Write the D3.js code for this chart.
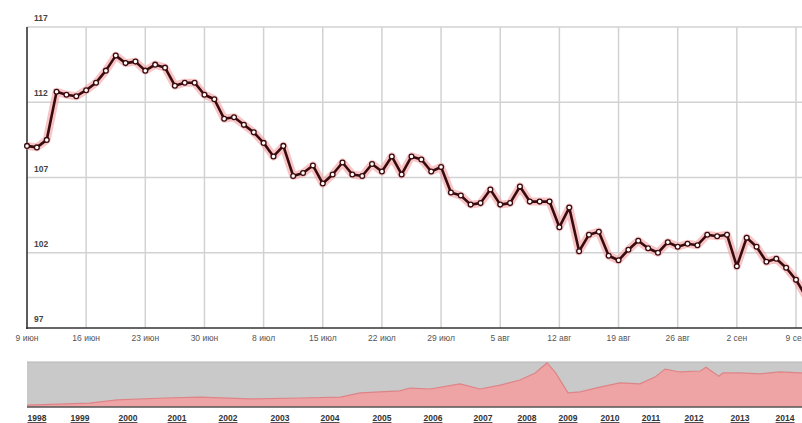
<!DOCTYPE html>
<html><head><meta charset="utf-8">
<script src="https://cdn.jsdelivr.net/npm/d3@7/dist/d3.min.js"></script>
<style>
html,body{margin:0;padding:0;background:#fff;overflow:hidden;}
svg{display:block;font-family:"Liberation Sans",Arial,sans-serif;}
</style></head><body>
<svg id="c" width="802" height="423"></svg>
<script>
// ---- data ----
const dateLabels = ["9 июн","16 июн","23 июн","30 июн","8 июл","15 июл","22 июл","29 июл","5 авг","12 авг","19 авг","26 авг","2 сен","9 сен"];
const yTicks = [97, 102, 107, 112, 117];
const values = [
 109.1,109.0,109.5,112.7,112.5,112.4,112.8,113.3,114.1,115.1,
 114.6,114.7,114.1,114.5,114.3,113.1,113.3,113.3,112.5,112.2,
 110.9,111.0,110.5,110.0,109.3,108.4,109.1,107.1,107.3,107.8,
 106.6,107.2,108.0,107.2,107.1,107.9,107.4,108.4,107.2,108.4,
 108.2,107.4,107.7,106.0,105.8,105.2,105.3,106.2,105.2,105.3,
 106.4,105.4,105.4,105.4,103.7,105.0,102.1,103.2,103.4,101.8,
 101.5,102.2,102.8,102.3,102.0,102.7,102.4,102.6,102.5,103.2,
 103.1,103.2,101.1,103.0,102.4,101.4,101.6,101.0,100.2,99.1
];
const pointsPerTick = 6;
const navYears = [1998,1999,2000,2001,2002,2003,2004,2005,2006,2007,2008,2009,2010,2011,2012,2013,2014];
const navX = [1997.77,1999.2,1999.77,2000.76,2001.45,2002.42,2003.4,2004.2,2004.58,2004.96,2005.35,2005.55,2005.94,2006.54,2006.94,2007.39,2007.84,2008.2,2008.49,2008.7,2009.0,2009.29,2009.76,2010.24,2010.73,2011.09,2011.33,2011.67,2012.14,2012.26,2012.54,2012.63,2013.0,2013.44,2013.89,2014.33,2014.8];
const navV = [6,12,22,28,31,25,28,31,44,47,50,59,56,72,56,68,84,106,137,106,44,47,62,75,72,93,118,109,112,124,96,106,106,103,109,106,105];

// ---- layout ----
const svg = d3.select("#c");
const L = 27, T = 27, B = 328, R = 820;
const x = d3.scaleLinear().domain([0, (dateLabels.length-1)*pointsPerTick]).range([L, 796]);
const y = d3.scaleLinear().domain([97, 117]).range([B, T]);

const g = svg.append("g");
// horizontal grid
g.selectAll("line.h").data(yTicks.slice(1)).join("line")
  .attr("x1", L).attr("x2", R).attr("y1", d=>y(d)).attr("y2", d=>y(d))
  .attr("stroke", "#d2d2d2").attr("stroke-width", 1.5);
// vertical grid
const xt = dateLabels.map((d,i)=>i*pointsPerTick);
g.selectAll("line.v").data(xt.slice(1)).join("line")
  .attr("x1", d=>x(d)).attr("x2", d=>x(d)).attr("y1", T).attr("y2", B)
  .attr("stroke", "#d2d2d2").attr("stroke-width", 1.5);
// axes lines
g.append("line").attr("x1", L).attr("x2", L).attr("y1", T).attr("y2", B+1).attr("stroke", "#333").attr("stroke-width", 1.6);
g.append("line").attr("x1", L-1).attr("x2", R).attr("y1", B).attr("y2", B).attr("stroke", "#333").attr("stroke-width", 1.6);

// y labels
g.selectAll("text.y").data(yTicks).join("text")
  .attr("x", L+7).attr("y", d=>y(d)-6)
  .attr("font-size", 8.5).attr("font-weight", "bold").attr("fill", "#444").text(d=>d);
// x labels
g.selectAll("text.x").data(dateLabels).join("text")
  .attr("x", (d,i)=>x(i*pointsPerTick)).attr("y", 341)
  .attr("text-anchor", "middle").attr("font-size", 8.5).attr("fill", "#555").text(d=>d);

// line
const line = d3.line().x((d,i)=>x(i)).y(d=>y(d));
g.append("path").datum(values).attr("d", line).attr("fill", "none")
  .attr("stroke", "#f49ea2").attr("stroke-width", 8).attr("stroke-opacity", 0.6).attr("stroke-linejoin","round");
g.append("path").datum(values).attr("d", line).attr("fill", "none")
  .attr("stroke", "#3a0b0e").attr("stroke-width", 2.6).attr("stroke-linejoin","round");
g.selectAll("circle").data(values).join("circle")
  .attr("cx", (d,i)=>x(i)).attr("cy", d=>y(d)).attr("r", 2.4)
  .attr("fill", "#fff").attr("stroke", "#3a0b0e").attr("stroke-width", 1.3);

// ---- navigator ----
const NT = 362, NB = 407;
const nx = d3.scaleLinear()
  .domain(navYears)
  .range([37,80,128,177,228,280,330,382,433,483,527,568,610,651,694,740,785]);
const ny = d3.scaleLinear().domain([0, 140]).range([NB, NT]);
const ng = svg.append("g");
ng.append("rect").attr("x", L).attr("y", NT).attr("width", R-L).attr("height", NB-NT).attr("fill", "#c9c9c9");
ng.append("line").attr("x1", L).attr("x2", R).attr("y1", NT).attr("y2", NT).attr("stroke", "#b5b5b5").attr("stroke-width", 1);
const navData = navX.map((d,i)=>[d, navV[i]]);
ng.append("path").datum(navData)
  .attr("d", d3.area().x(d=>nx(d[0])).y0(NB).y1(d=>ny(d[1])))
  .attr("fill", "#eea3a5");
ng.append("path").datum(navData)
  .attr("d", d3.line().x(d=>nx(d[0])).y(d=>ny(d[1])))
  .attr("fill", "none").attr("stroke", "#de8487").attr("stroke-width", 1.2);
ng.append("line").attr("x1", L).attr("x2", R).attr("y1", NB).attr("y2", NB).attr("stroke", "#555").attr("stroke-width", 1.6);
ng.selectAll("text").data(navYears).join("text")
  .attr("x", d=>nx(d)).attr("y", 421).attr("text-anchor", "middle")
  .attr("font-size", 8.5).attr("font-weight", "bold").attr("fill", "#333")
  .attr("text-decoration", "underline").text(d=>d);
</script>
</body></html>
